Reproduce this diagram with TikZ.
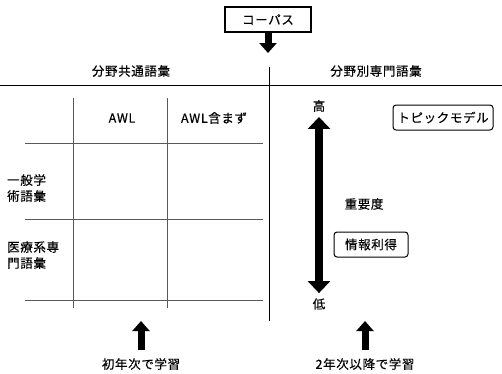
\documentclass[tikz,border=0pt]{standalone}
\usepackage{fontspec}
\setmainfont{Noto Sans CJK JP}[LetterSpace=5, FakeBold=0.4]
\usetikzlibrary{arrows.meta}
\begin{document}
\begin{tikzpicture}[x=1pt,y=-1pt,
  font=\fontsize{12.5}{14}\selectfont,
  gridline/.style={draw=black!65, line width=0.8pt},
  divline/.style={draw=black, line width=1pt},
  sqbox/.style={draw, line width=1.1pt, minimum width=86pt, minimum height=25pt, inner sep=0pt},
  rbox/.style={draw, line width=1pt, rounded corners=3pt, minimum height=25pt, inner sep=0pt},
  lbl/.style={inner sep=0pt},
  fatarrow/.style={line width=7pt, -{Triangle[width=17pt,length=10pt]}},
  dblarrow/.style={line width=8pt, {Triangle[width=22pt,length=12pt]}-{Triangle[width=22pt,length=12pt]}}
]
\useasboundingbox (0,0) rectangle (502,373);
% top
\node[sqbox] (corpus) at (268,19.5) {コーパス};
\coordinate (corpusend) at (268,53);
\draw[fatarrow] (corpus.south) -- (corpusend);
% dividers
\coordinate (hl) at (0,85);
\coordinate (hr) at (502,85);
\coordinate (vt) at (269,67);
\coordinate (vb) at (269,321);
\draw[divline] (hl) -- (hr);
\draw[divline] (vt) -- (vb);
\node[lbl] (common) at (131,71) {分野共通語彙};
\node[lbl] (special) at (376,71) {分野別専門語彙};
% table
\foreach \x/\n in {73/a,167/b}{
  \coordinate (v\n t) at (\x,98);
  \coordinate (v\n b) at (\x,308);
  \draw[gridline] (v\n t) -- (v\n b);
}
\foreach \y/\n in {143/a,219/b,300/c}{
  \coordinate (h\n l) at (25,\y);
  \coordinate (h\n r) at (263,\y);
  \draw[gridline] (h\n l) -- (h\n r);
}
\node[lbl] (awl) at (122,118) {AWL};
\node[lbl] (awlnot) at (214,118) {AWL含まず};
\node[lbl, anchor=west, align=left, font=\fontsize{12.5}{16}\selectfont] (general) at (7,188) {一般学\\術語彙};
\node[lbl, anchor=west, align=left, font=\fontsize{12.5}{16}\selectfont] (medical) at (7,255) {医療系専\\門語彙};
% right side
\node[lbl] (high) at (319,106) {高};
\node[lbl] (low) at (319,304) {低};
\draw[dblarrow] ([yshift=-5pt]high.south) -- ([yshift=5pt]low.north);
\node[rbox, minimum width=100pt] (topic) at (443,117.5) {トピックモデル};
\node[lbl] (importance) at (364,204) {重要度};
\node[rbox, minimum width=74pt] (infogain) at (371,244.5) {情報利得};
% bottom
\node[lbl] (first) at (141,364) {初年次で学習};
\node[lbl] (second) at (365,364) {2年次以降で学習};
\coordinate (firsttop) at (141,321);
\coordinate (secondtop) at (365,321);
\draw[fatarrow] ([yshift=8pt]first.north) -- (firsttop);
\draw[fatarrow] ([yshift=8pt]second.north) -- (secondtop);
\end{tikzpicture}
\end{document}
